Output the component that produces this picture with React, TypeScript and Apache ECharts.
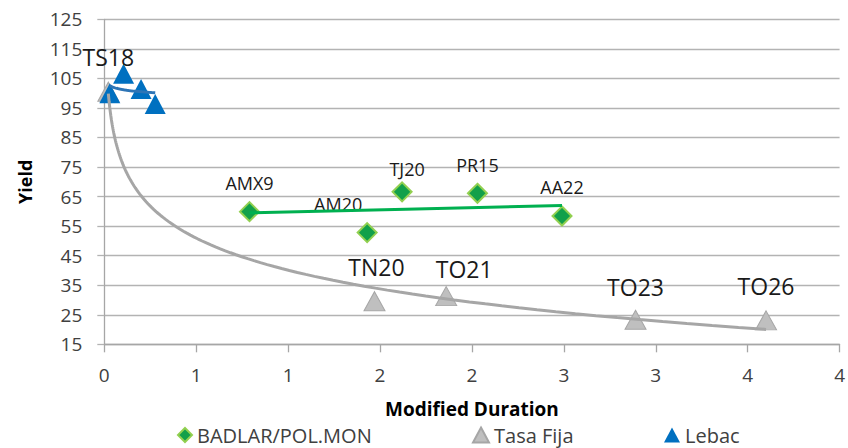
import React, { useEffect, useRef } from "react";
import * as echarts from "echarts";

// ---- data ----
const badlarNames = ["AMX9", "AM20", "TJ20", "PR15", "AA22"];
const badlarX = [0.79, 1.43, 1.62, 2.03, 2.49];
const badlarY = [59.9, 52.8, 66.6, 66.1, 58.4];

const fijaNames = ["TS18", "TN20", "TO21", "TO23", "TO26"];
const fijaX = [0.022, 1.47, 1.86, 2.89, 3.6];
const fijaY = [100.5, 29.6, 31.3, 23.3, 23.1];

const lebacX = [0.03, 0.105, 0.2, 0.277];
const lebacY = [100, 106.6, 101.4, 96.3];

const xMin = 0;
const xMax = 4;
const xStep = 0.5;
const yMin = 15;
const yMax = 125;
const yStep = 10;

const FONT = "'Open Sans', 'DejaVu Sans', sans-serif";

// least-squares trend lines (as Excel does)
function fit(xs: number[], ys: number[], tx: (v: number) => number) {
  const u = xs.map(tx);
  const n = u.length;
  const mu = u.reduce((a, b) => a + b, 0) / n;
  const my = ys.reduce((a, b) => a + b, 0) / n;
  let sxy = 0;
  let sxx = 0;
  for (let i = 0; i < n; i++) {
    sxy += (u[i] - mu) * (ys[i] - my);
    sxx += (u[i] - mu) * (u[i] - mu);
  }
  const b = sxy / sxx;
  const a = my - b * mu;
  return (x: number) => a + b * tx(x);
}

function trend(xs: number[], ys: number[], log: boolean, steps: number) {
  const f = fit(xs, ys, log ? Math.log : (v) => v);
  const lo = Math.min(...xs);
  const hi = Math.max(...xs);
  const pts: number[][] = [];
  for (let i = 0; i <= steps; i++) {
    const t = i / steps;
    const x = log ? lo * Math.pow(hi / lo, t) : lo + (hi - lo) * t;
    pts.push([x, f(x)]);
  }
  return pts;
}

export default function App() {
  const ref = useRef<HTMLDivElement>(null);

  useEffect(() => {
    if (!ref.current) return;
    const chart = echarts.init(ref.current, undefined, { renderer: "svg" });

    const badlarOffsets = [
      [0, -29],
      [-29, -29],
      [5, -23],
      [0, -28],
      [0, -29],
    ];
    const fijaOffsets = [
      [0, -35],
      [2, -34],
      [18, -27],
      [0, -33],
      [0, -34],
    ];

    const legendText = { fontSize: 20, lineHeight: 20, color: "#404040", fontFamily: FONT };

    const option: any = {
      animation: false,
      textStyle: { fontFamily: FONT },
      grid: { left: 104.3, right: 7.7, top: 19.3, bottom: 103.7, containLabel: false },
      xAxis: {
        type: "value",
        min: xMin,
        max: xMax,
        interval: xStep,
        name: "Modified Duration",
        nameLocation: "middle",
        nameGap: 55,
        nameTextStyle: { fontFamily: FONT, fontSize: 19, fontWeight: "bold", color: "#000" },
        axisLine: { show: true, lineStyle: { color: "#a6a6a6", width: 1.3 } },
        axisTick: { show: true, length: 8, lineStyle: { color: "#a6a6a6", width: 1.3 } },
        splitLine: { show: false },
        axisLabel: {
          margin: 21,
          fontSize: 19,
          color: "#404040",
          fontFamily: FONT,
          formatter: (v: number) => String(Math.round(v)),
        },
      },
      yAxis: {
        type: "value",
        min: yMin,
        max: yMax,
        interval: yStep,
        name: "Yield",
        nameLocation: "middle",
        nameGap: 70,
        nameRotate: 90,
        nameTextStyle: { fontFamily: FONT, fontSize: 18, fontWeight: "bold", color: "#000" },
        axisLine: { show: true, lineStyle: { color: "#a6a6a6", width: 1.3 } },
        axisTick: { show: true, length: 7, lineStyle: { color: "#b3b3b3", width: 1.3 } },
        splitLine: { show: true, lineStyle: { color: "#b3b3b3", width: 1.3 } },
        axisLabel: { margin: 22, fontSize: 19, color: "#404040", fontFamily: FONT },
      },
      legend: [
        {
          data: [{ name: "BADLAR/POL.MON", icon: "diamond" }],
          left: 177,
          top: 425,
          padding: 0,
          itemWidth: 14,
          itemHeight: 14,
          textStyle: legendText,
        },
        {
          data: [{ name: "Tasa Fija", icon: "triangle" }],
          left: 472,
          top: 425,
          padding: 0,
          itemWidth: 16,
          itemHeight: 15,
          textStyle: legendText,
        },
        {
          data: [{ name: "Lebac", icon: "triangle" }],
          left: 664,
          top: 425,
          padding: 0,
          itemWidth: 16,
          itemHeight: 15,
          textStyle: legendText,
        },
      ],
      series: [
        {
          name: "BADLAR/POL.MON",
          type: "scatter",
          symbol: "diamond",
          symbolSize: [19, 19],
          z: 2,
          itemStyle: { color: "#12a04a", borderColor: "#92d050", borderWidth: 2, opacity: 1 },
          label: {
            show: true,
            position: "inside",
            formatter: "{b}",
            fontSize: 18,
            color: "#1a1a1a",
            fontFamily: FONT,
          },
          data: badlarX.map((x, i) => ({
            name: badlarNames[i],
            value: [x, badlarY[i]],
            label: { offset: badlarOffsets[i] },
          })),
        },
        {
          name: "Tasa Fija",
          type: "scatter",
          symbol: "triangle",
          symbolSize: [21, 19],
          z: 2,
          itemStyle: { color: "#bfbfbf", borderColor: "#a6a6a6", borderWidth: 1, opacity: 1 },
          label: {
            show: true,
            position: "inside",
            formatter: "{b}",
            fontSize: 23,
            color: "#1a1a1a",
            fontFamily: FONT,
          },
          data: fijaX.map((x, i) => ({
            name: fijaNames[i],
            value: [x, fijaY[i]],
            label: { offset: fijaOffsets[i] },
          })),
        },
        {
          name: "Lebac",
          type: "scatter",
          symbol: "triangle",
          symbolSize: [21, 20],
          z: 2,
          itemStyle: { color: "#0070c0", opacity: 1 },
          data: lebacX.map((x, i) => [x, lebacY[i]]),
        },
        {
          name: "fija-trend",
          type: "line",
          z: 3,
          showSymbol: false,
          symbol: "none",
          silent: true,
          lineStyle: { color: "#a6a6a6", width: 3 },
          data: trend(fijaX, fijaY, true, 120),
        },
        {
          name: "lebac-trend",
          type: "line",
          z: 4,
          showSymbol: false,
          symbol: "none",
          silent: true,
          lineStyle: { color: "#2e75b6", width: 3 },
          data: trend(lebacX, lebacY, true, 30),
        },
        {
          name: "badlar-trend",
          type: "line",
          z: 3,
          showSymbol: false,
          symbol: "none",
          silent: true,
          lineStyle: { color: "#00b050", width: 3 },
          data: trend(badlarX, badlarY, false, 2),
        },
      ],
    };

    chart.setOption(option);
    return () => chart.dispose();
  }, []);

  return (
    <div
      ref={ref}
      style={{ position: "fixed", left: 0, top: 0, width: 848, height: 448, background: "#fff" }}
    />
  );
}
